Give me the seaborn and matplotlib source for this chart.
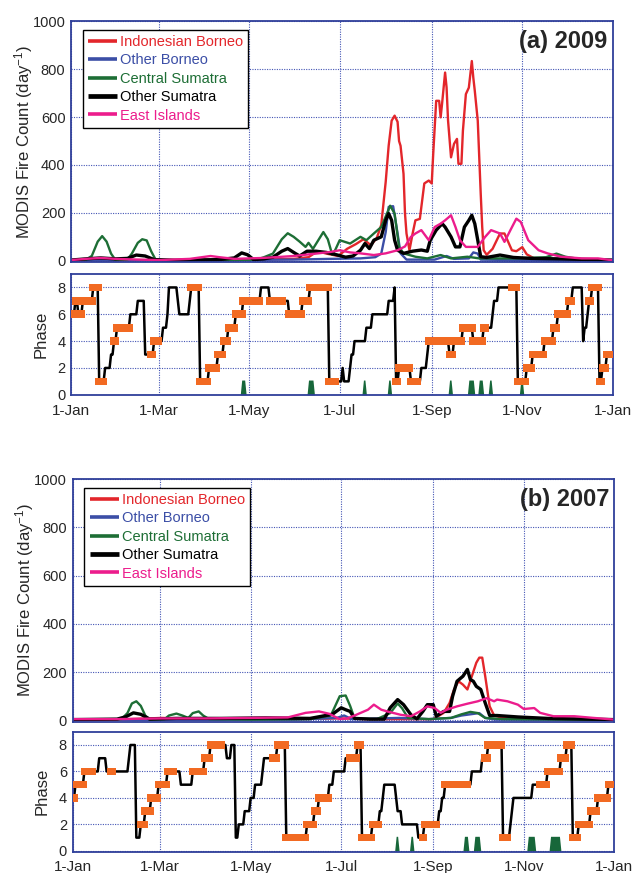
import numpy as np
import pandas as pd
import seaborn as sns
import matplotlib.pyplot as plt

# x axis: day of year
month_days = [0, 59, 120, 181, 243, 304, 365]
month_labels = ['1-Jan', '1-Mar', '1-May', '1-Jul', '1-Sep', '1-Nov', '1-Jan']

regions = ['Indonesian Borneo', 'Other Borneo', 'Central Sumatra', 'Other Sumatra', 'East Islands']
region_colors = ['#e3262b', '#3b4ea6', '#1d6e35', '#000000', '#ec1c8c']

# ---- 2009 fire counts (day, count) ----
ib09_day = [0, 60, 120, 150, 160, 166, 172, 180, 186, 192, 197, 202, 206, 209, 212, 214, 216, 218, 220, 221,
            222, 224, 225, 226, 228, 230, 232, 235, 238, 241, 243, 244, 246, 248, 249, 250, 252, 253, 254, 256,
            258, 260, 261, 263, 264, 266, 268, 270, 271, 272, 274, 276, 277, 278, 280, 284, 289, 292, 294, 297,
            300, 304, 307, 312, 320, 340, 365]
ib09_val = [3, 3, 5, 8, 15, 40, 30, 20, 50, 70, 90, 65, 95, 150, 330, 481, 585, 606, 580, 500,
            480, 363, 197, 114, 44, 110, 169, 175, 323, 335, 323, 446, 668, 668, 599, 658, 786, 724, 585, 432,
            488, 509, 405, 405, 543, 696, 723, 834, 765, 710, 585, 280, 141, 44, 25, 50, 114, 114, 86, 44,
            40, 57, 27, 10, 5, 3, 2]
ob09_day = [0, 100, 150, 175, 195, 205, 209, 212, 214, 217, 220, 222, 226, 245, 253, 258, 268, 271, 274, 276, 300, 365]
ob09_val = [2, 3, 5, 8, 10, 15, 30, 120, 225, 228, 114, 31, 5, 5, 20, 8, 10, 35, 30, 5, 3, 1]
cs09_day = [0, 10, 14, 18, 21, 24, 27, 30, 38, 41, 45, 48, 51, 54, 57, 70, 110, 125, 130, 136,
            142, 146, 150, 154, 158, 160, 163, 167, 170, 173, 176, 178, 181, 188, 195, 199, 204, 209, 213, 215,
            218, 221, 224, 232, 240, 249, 256, 267, 275, 300, 320, 327, 333, 345, 365]
cs09_val = [2, 5, 20, 80, 103, 80, 30, 3, 5, 30, 75, 90, 85, 40, 5, 2, 3, 5, 15, 30,
            90, 115, 100, 80, 58, 75, 50, 90, 120, 90, 25, 45, 86, 72, 100, 86, 114, 141, 200, 230,
            197, 58, 31, 17, 10, 24, 10, 17, 10, 10, 15, 30, 17, 5, 2]
os09_day = [0, 10, 20, 30, 38, 44, 50, 56, 70, 100, 110, 115, 119, 123, 130, 136, 142, 146, 150, 154,
            159, 165, 172, 179, 185, 190, 195, 198, 201, 204, 209, 212, 214, 216, 218, 220, 224, 230, 236, 240,
            242, 246, 250, 252, 256, 259, 262, 265, 268, 270, 272, 274, 276, 280, 289, 298, 310, 330, 350, 365]
os09_val = [3, 8, 12, 8, 10, 24, 20, 5, 2, 5, 12, 33, 25, 5, 8, 15, 40, 51, 35, 20,
            40, 40, 35, 25, 15, 20, 44, 72, 51, 86, 100, 169, 197, 169, 86, 44, 31, 40, 45, 40,
            86, 128, 155, 141, 100, 58, 58, 141, 169, 190, 155, 86, 17, 14, 24, 14, 10, 8, 5, 3]
ei09_day = [0, 10, 20, 30, 45, 60, 80, 94, 100, 110, 130, 150, 165, 175, 181, 188, 195, 204, 212, 220,
            225, 229, 232, 236, 241, 245, 249, 252, 256, 259, 262, 266, 274, 279, 283, 289, 292, 296, 300, 303,
            308, 315, 321, 330, 344, 355, 365]
ei09_val = [3, 8, 12, 8, 5, 3, 8, 20, 15, 8, 12, 20, 30, 37, 44, 35, 31, 24, 31, 44,
            60, 100, 114, 128, 86, 141, 155, 169, 190, 141, 86, 58, 58, 100, 128, 114, 79, 128, 176, 162,
            86, 44, 31, 17, 10, 10, 2]

# ---- 2007 fire counts (day, count) ----
ib07_day = [0, 30, 60, 70, 100, 150, 180, 200, 230, 243, 250, 254, 257, 260, 263, 266, 269, 272, 274, 276,
            278, 281, 284, 290, 310, 330, 365]
ib07_val = [3, 3, 10, 8, 5, 5, 8, 5, 5, 5, 31, 72, 128, 162, 148, 128, 183, 239, 260, 260,
            183, 58, 20, 10, 8, 5, 3]
ob07_day = [0, 100, 150, 178, 183, 188, 220, 240, 255, 262, 268, 274, 278, 285, 365]
ob07_val = [2, 2, 3, 10, 20, 5, 10, 5, 10, 20, 25, 30, 10, 3, 2]
cs07_day = [0, 20, 33, 37, 40, 43, 46, 49, 52, 62, 65, 70, 74, 78, 81, 85, 88, 92, 120, 160,
            174, 177, 180, 184, 187, 190, 205, 214, 219, 222, 226, 240, 255, 262, 268, 273, 278, 290, 365]
cs07_val = [5, 3, 5, 30, 70, 79, 60, 20, 3, 5, 20, 28, 20, 10, 30, 37, 20, 5, 3, 5,
            20, 60, 100, 103, 60, 8, 5, 30, 70, 50, 10, 5, 10, 25, 35, 30, 10, 5, 2]
os07_day = [0, 30, 36, 41, 46, 52, 70, 100, 130, 160, 175, 181, 184, 187, 190, 200, 210, 214, 219, 223,
            228, 232, 236, 239, 243, 245, 250, 254, 256, 259, 263, 266, 268, 270, 272, 275, 278, 281, 286, 300,
            320, 365]
os07_val = [3, 5, 15, 31, 25, 5, 8, 8, 10, 8, 25, 52, 44, 37, 8, 5, 5, 52, 86, 65,
            23, 6, 37, 65, 65, 17, 37, 37, 99, 162, 183, 211, 169, 162, 141, 128, 72, 20, 20, 14,
            8, 3]
ei07_day = [0, 30, 60, 90, 120, 145, 157, 166, 173, 180, 185, 190, 199, 203, 208, 212, 221, 228, 234, 239,
            244, 248, 252, 259, 266, 273, 279, 284, 286, 293, 300, 304, 311, 315, 324, 338, 351, 365]
ei07_val = [5, 5, 8, 8, 10, 12, 31, 37, 27, 5, 8, 20, 44, 65, 44, 37, 23, 17, 37, 58,
            51, 31, 44, 58, 69, 79, 92, 79, 86, 79, 65, 47, 51, 31, 17, 17, 10, 3]

# ---- MJO phase: day the phase starts, phase, strong (1) or weak (0) ----
ph09_start = [0, 3, 5, 8, 15, 19, 23, 27, 29, 31, 40, 45, 50, 54, 56, 60, 62, 65, 66, 72,
              73, 80, 81, 87, 93, 99, 103, 106, 111, 116, 128, 134, 143, 147, 156, 161, 174, 179, 183, 184,
              188, 189, 191, 199, 203, 214, 218, 219, 221, 229, 234, 236, 240, 241, 255, 258, 264, 271, 278, 280,
              284, 285, 288, 297, 301, 307, 311, 319, 325, 328, 335, 338, 345, 346, 348, 349, 351, 356, 358, 361]
ph09_val = [6, 7, 6, 7, 8, 1, 2, 3, 4, 5, 6, 7, 3, 3, 4, 4, 5, 6, 8, 7,
            6, 7, 8, 1, 2, 3, 4, 5, 6, 7, 8, 7, 7, 6, 7, 8, 1, 1, 2, 1,
            2, 3, 4, 5, 6, 7, 8, 1, 2, 1, 1, 2, 3, 4, 3, 4, 5, 4, 5, 5,
            6, 7, 8, 8, 1, 2, 3, 4, 5, 6, 7, 8, 4, 5, 6, 7, 8, 1, 2, 3]
ph09_strong = [1, 1, 1, 1, 1, 1, 0, 0, 1, 1, 0, 0, 0, 1, 1, 0, 0, 0, 0, 0,
               0, 0, 1, 1, 1, 1, 1, 1, 1, 1, 0, 1, 0, 1, 1, 1, 1, 0, 0, 0,
               0, 0, 0, 0, 0, 0, 0, 1, 1, 1, 0, 0, 0, 1, 1, 1, 1, 1, 1, 0,
               0, 0, 0, 1, 1, 1, 1, 1, 1, 1, 1, 0, 0, 0, 0, 1, 1, 1, 1, 1]
ph07_start = [0, 2, 8, 14, 18, 23, 26, 28, 38, 39, 43, 46, 49, 53, 58, 64, 69, 73, 81, 89,
              93, 101, 104, 107, 110, 112, 116, 120, 123, 128, 129, 135, 138, 144, 158, 163, 166, 173, 176, 184,
              187, 192, 195, 202, 207, 209, 210, 218, 219, 222, 233, 236, 237, 246, 247, 249, 251, 267, 269, 276,
              278, 280, 290, 294, 295, 296, 297, 310, 315, 320, 329, 333, 337, 341, 349, 354, 361]
ph07_val = [4, 5, 6, 6, 7, 6, 6, 6, 7, 8, 1, 2, 3, 4, 5, 6, 6, 5, 6, 7,
            8, 8, 7, 8, 1, 2, 3, 4, 5, 6, 7, 7, 8, 1, 2, 3, 4, 5, 6, 7,
            7, 8, 1, 2, 3, 4, 5, 4, 3, 2, 1, 1, 2, 2, 3, 4, 5, 5, 6, 7,
            7, 8, 1, 1, 2, 3, 4, 5, 5, 6, 7, 8, 1, 2, 3, 4, 5]
ph07_strong = [1, 1, 1, 0, 0, 0, 1, 0, 0, 0, 0, 1, 1, 1, 1, 1, 0, 0, 1, 1,
               1, 0, 0, 0, 0, 0, 0, 0, 0, 0, 0, 1, 1, 1, 1, 1, 1, 0, 0, 0,
               1, 1, 1, 1, 0, 0, 0, 0, 0, 0, 0, 1, 1, 0, 0, 0, 1, 0, 0, 0,
               1, 1, 1, 0, 0, 0, 0, 0, 1, 1, 1, 1, 1, 1, 1, 1, 1]

# green marks at the bottom of the phase panels (first day, last day)
wet09 = [(115, 117), (160, 163), (197, 198), (214, 215), (255, 256), (268, 271), (275, 277), (282, 283), (303, 304)]
wet07 = [(218, 219), (228, 229), (264, 266), (271, 274), (307, 311), (322, 328)]

AX_BLUE = '#2f3f9a'
GRID_BLUE = '#4455b5'
ORANGE = '#f26a22'
BAR_GREEN = '#17673a'

sns.set_style('white')
plt.rcParams['font.family'] = ['Liberation Sans', 'DejaVu Sans']
plt.rcParams['mathtext.default'] = 'regular'


def fire_frame(series):
    parts = []
    for name, (d, v) in zip(regions, series):
        parts.append(pd.DataFrame({'day': d, 'count': v, 'region': name}))
    return pd.concat(parts, ignore_index=True)


def style_axes(ax, yticks):
    ax.set_xlim(0, 365)
    ax.set_xticks(month_days)
    ax.set_yticks(yticks)
    ax.grid(True, color=GRID_BLUE, ls=(0, (1, 1.2)), lw=0.8)
    for s in ax.spines.values():
        s.set_color(AX_BLUE)
        s.set_linewidth(1.3)
    ax.tick_params(direction='in', length=3, color=AX_BLUE, labelsize=10.5, pad=4)
    ax.set_xlabel('')


def plot_fire(ax, df, tag):
    for name, color in zip(regions, region_colors):
        sub = df[df.region == name]
        lw = 2.4 if name == 'Other Sumatra' else 1.7
        sns.lineplot(data=sub, x='day', y='count', color=color, lw=lw,
                     estimator=None, sort=False, ax=ax, label=name)
    style_axes(ax, [0, 200, 400, 600, 800, 1000])
    ax.set_ylim(-5, 1000)
    ax.set_xticklabels([])
    ax.set_ylabel('MODIS Fire Count (day$^{-1}$)', fontsize=12)
    ax.yaxis.set_label_coords(-0.067, 0.5)
    leg = ax.legend(loc='upper left', bbox_to_anchor=(0.022, 0.964), borderaxespad=0,
                    fontsize=10.5, frameon=True, fancybox=False, edgecolor='black',
                    framealpha=1, handlelength=2.0, handletextpad=0.2,
                    borderpad=0.35, labelspacing=0.3)
    leg.get_frame().set_linewidth(1.0)
    for txt, line, c in zip(leg.get_texts(), leg.get_lines(), region_colors):
        txt.set_color(c)
        line.set_linewidth(3.4 if c == '#000000' else 2.6)
        line.set_solid_capstyle('butt')
    ax.text(0.99, 0.965, tag, transform=ax.transAxes, ha='right', va='top',
            fontsize=17, fontweight='bold')


def plot_phase(ax, starts, vals, strong, wet):
    days = np.arange(366)
    idx = np.searchsorted(starts, days, side='right') - 1
    phase = np.asarray(vals)[idx]
    active = np.asarray(strong)[idx].astype(bool)
    marks = np.zeros(366)
    for a, b in wet:
        marks[a:b + 1] = 1.1
    ax.fill_between(days, 0, marks, color=BAR_GREEN, lw=0)
    sns.lineplot(x=days, y=phase, color='black', lw=1.8, estimator=None, ax=ax)
    sns.scatterplot(x=days[active], y=phase[active], marker='s', s=30, color=ORANGE,
                    edgecolor='none', ax=ax, zorder=3)
    style_axes(ax, [0, 2, 4, 6, 8])
    ax.set_ylim(-0.05, 9)
    ax.tick_params(axis='x', pad=6)
    ax.set_xticklabels(month_labels, fontsize=11)
    ax.set_ylabel('Phase', fontsize=12)
    ax.yaxis.set_label_coords(-0.042, 0.5)


fig = plt.figure(figsize=(6.36, 8.73), dpi=100)
ax_fa = fig.add_axes([0.1116, 0.6999, 0.852, 0.2757])
ax_pa = fig.add_axes([0.1116, 0.547, 0.852, 0.1391])
ax_fb = fig.add_axes([0.1140, 0.1735, 0.852, 0.2775])
ax_pb = fig.add_axes([0.1140, 0.0246, 0.852, 0.1372])

df09 = fire_frame([(ib09_day, ib09_val), (ob09_day, ob09_val), (cs09_day, cs09_val),
                   (os09_day, os09_val), (ei09_day, ei09_val)])
df07 = fire_frame([(ib07_day, ib07_val), (ob07_day, ob07_val), (cs07_day, cs07_val),
                   (os07_day, os07_val), (ei07_day, ei07_val)])

plot_fire(ax_fa, df09, '(a) 2009')
plot_phase(ax_pa, ph09_start, ph09_val, ph09_strong, wet09)
plot_fire(ax_fb, df07, '(b) 2007')
plot_phase(ax_pb, ph07_start, ph07_val, ph07_strong, wet07)

fig.savefig('out.png', dpi=100)
